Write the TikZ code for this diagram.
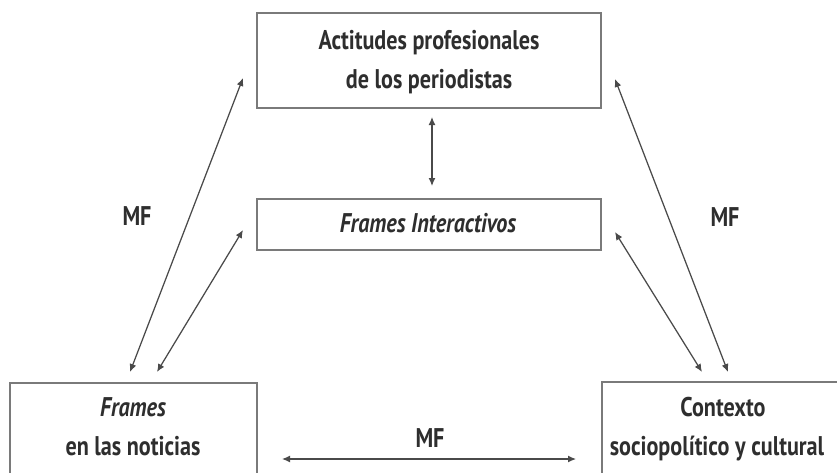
\documentclass[tikz,border=0pt]{standalone}
\usepackage{fontspec}
\setmainfont{PT Sans}[FakeStretch=0.82]
\usetikzlibrary{arrows.meta}
\definecolor{boxc}{HTML}{7A7A7A}
\definecolor{arrc}{HTML}{4A4A4A}
\definecolor{txt}{HTML}{2E2E2E}
\begin{document}
\begin{tikzpicture}[x=1pt,y=-1pt,
  box/.style={draw=boxc, line width=1.4pt, inner sep=0pt, fill=white},
  lbl/.style={text=txt, font=\bfseries\fontsize{27}{39}\selectfont, anchor=base, inner sep=0pt},
  ilbl/.style={lbl, font=\bfseries\itshape\fontsize{27}{39}\selectfont},
  arr/.style={draw=arrc, line width=1.25pt, {Latex[length=8pt,width=7pt]}-{Latex[length=8pt,width=7pt]}}]
\useasboundingbox (0,0) rectangle (837,472);
\clip (0,0) rectangle (837,472);
\fill[white] (0,0) rectangle (837,472);
% boxes
\node[box, minimum width=344pt, minimum height=95pt] (top) at (429,60.5) {};
\node[box, minimum width=344pt, minimum height=51pt] (mid) at (429,224.5) {};
\node[box, minimum width=247pt, minimum height=120pt] (fn) at (133.5,443) {};
\node[box, minimum width=260pt, minimum height=120pt] (ctx) at (732,442) {};
% texts
\node[lbl] (t1) at (429,49) {Actitudes profesionales};
\node[lbl] (t2) at (429,88) {de los periodistas};
\node[ilbl] (t3) at (428,232) {Frames Interactivos};
\node[ilbl] (t4) at (133,416) {Frames};
\node[lbl] (t5) at (133,455) {en las noticias};
\node[lbl] (t6) at (723,416) {Contexto};
\node[lbl] (t7) at (717,455) {sociopolítico y cultural};
\node[lbl] (mf1) at (137,225) {MF};
\node[lbl] (mf2) at (725,226) {MF};
\node[lbl] (mf3) at (430,447) {MF};
% arrow end points
\coordinate (a1) at (243,78);  \coordinate (a2) at (130,372);
\coordinate (b1) at (243,230); \coordinate (b2) at (157,372);
\coordinate (c1) at (615,79);  \coordinate (c2) at (728,372);
\coordinate (d1) at (615,232); \coordinate (d2) at (702,372);
\coordinate (v1) at (432,117); \coordinate (v2) at (432,186);
\coordinate (h1) at (282,459); \coordinate (h2) at (576,459);
\draw[arr] (a1) -- (a2);
\draw[arr] (b1) -- (b2);
\draw[arr] (c1) -- (c2);
\draw[arr] (d1) -- (d2);
\draw[arr] (v1) -- (v2);
\draw[arr] (h1) -- (h2);
\end{tikzpicture}
\end{document}
